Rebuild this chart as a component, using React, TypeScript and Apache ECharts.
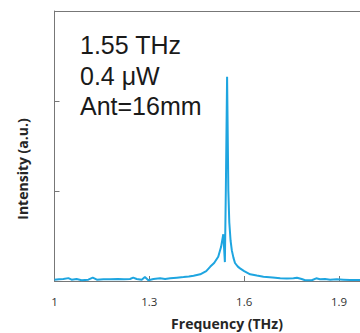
import React, { useEffect, useRef } from "react";
import * as echarts from "echarts";

const freq = [
  1.0, 1.014, 1.028, 1.044, 1.054, 1.07, 1.086, 1.107, 1.121, 1.134, 1.155, 1.176, 1.2, 1.22,
  1.239, 1.249, 1.26, 1.276, 1.286, 1.297, 1.313, 1.334, 1.35, 1.366, 1.387, 1.408, 1.425, 1.44,
  1.461, 1.48, 1.493, 1.505, 1.518, 1.527, 1.534, 1.539, 1.542, 1.546, 1.55, 1.553, 1.557, 1.561,
  1.566, 1.571, 1.58, 1.587, 1.6, 1.619, 1.64, 1.661, 1.69, 1.714, 1.735, 1.756, 1.767, 1.782,
  1.793, 1.814, 1.828, 1.84, 1.856, 1.872, 1.893, 1.914, 1.935, 1.962, 1.99,
];
const intensity = [
  0.015, 0.02, 0.022, 0.032, 0.015, 0.022, 0.008, 0.015, 0.037, 0.015, 0.02, 0.019, 0.022, 0.02,
  0.022, 0.037, 0.022, 0.015, 0.044, 0.008, 0.022, 0.03, 0.022, 0.03, 0.037, 0.044, 0.05, 0.059,
  0.074, 0.11, 0.16, 0.2, 0.27, 0.38, 0.52, 0.21, 1.0, 2.27, 1.0, 0.65, 0.45, 0.34,
  0.26, 0.2, 0.16, 0.14, 0.11, 0.074, 0.06, 0.048, 0.04, 0.03, 0.028, 0.03, 0.037, 0.022,
  0.008, 0.008, 0.03, 0.019, 0.022, 0.015, 0.019, 0.015, 0.011, 0.011, 0.012,
];
const xTicks = [1, 1.3, 1.6, 1.9];
const annotations = ["1.55 THz", "0.4 \u03bcW", "Ant=16mm"];

export default function App() {
  const ref = useRef<HTMLDivElement>(null);
  useEffect(() => {
    if (!ref.current) return;
    const chart = echarts.init(ref.current, undefined, { renderer: "svg" });
    const data = freq.map((f, i) => [f, intensity[i]]);
    const frame = "#777777";
    chart.setOption({
      animation: false,
      grid: {
        left: 54.5,
        right: 9.4,
        top: 11,
        bottom: 52,
      },
      xAxis: [
        {
          type: "value",
          min: 1,
          max: 2,
          axisLine: { show: true, lineStyle: { color: frame } },
          axisTick: { show: true, inside: true, length: 5, lineStyle: { color: frame }, customValues: xTicks },
          axisLabel: {
            customValues: xTicks,
            color: "#333333",
            fontFamily: "Open Sans",
            fontSize: 11.5,
            margin: 14,
            formatter: (v: number) => String(Math.round(v * 10) / 10),
          },
          splitLine: { show: false },
        },
        {
          type: "value",
          position: "top",
          min: 1,
          max: 2,
          axisLine: { show: true, lineStyle: { color: frame } },
          axisTick: { show: false },
          axisLabel: { show: false },
          splitLine: { show: false },
        },
      ],
      yAxis: {
        type: "value",
        min: 0,
        max: 3,
        interval: 1,
        axisLine: { show: true, lineStyle: { color: frame } },
        axisTick: { show: true, inside: true, length: 5, lineStyle: { color: frame } },
        axisLabel: { show: false },
        splitLine: { show: false },
      },
      series: [
        {
          type: "line",
          data,
          showSymbol: false,
          symbol: "none",
          lineStyle: { color: "#1ea5e0", width: 2 },
        },
      ],
      graphic: [
        ...annotations.map((t, i) => ({
          type: "text",
          left: 80,
          top: 46.3 + i * 30.8 - 14,
          style: {
            text: t,
            fill: "#1a1a1a",
            font: "25px 'Liberation Sans', Arial, sans-serif",
          },
        })),
        {
          type: "text",
          x: 227,
          y: 323,
          style: {
            text: "Frequency (THz)",
            fill: "#262626",
            font: "bold 14px 'Open Sans', sans-serif",
            align: "center",
            verticalAlign: "middle",
          },
        },
        {
          type: "text",
          x: 22,
          y: 169,
          rotation: Math.PI / 2,
          style: {
            text: "Intensity (a.u.)",
            fill: "#262626",
            font: "bold 14px 'Open Sans', sans-serif",
            align: "center",
            verticalAlign: "middle",
          },
        },
      ],
    });
    return () => chart.dispose();
  }, []);
  return (
    <div style={{ position: "fixed", left: 0, top: 0, width: 360, height: 333, overflow: "hidden", background: "#fff" }}>
      <div ref={ref} style={{ width: 380, height: 333 }} />
    </div>
  );
}
